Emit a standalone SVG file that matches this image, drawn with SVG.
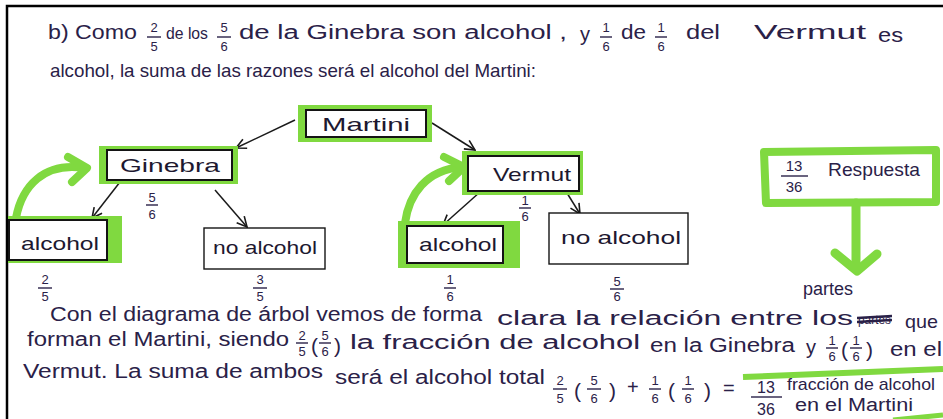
<svg xmlns="http://www.w3.org/2000/svg" width="943" height="419" viewBox="0 0 943 419">
<defs>
<style>
.t{font-family:"Liberation Sans",Arial,sans-serif;fill:#2a2148;font-size:20px}
.n{font-family:"Liberation Sans",Arial,sans-serif;fill:#1d1830;font-size:19px;text-anchor:middle}
.f{font-family:"Liberation Sans",Arial,sans-serif;fill:#2a2148;font-size:13px;text-anchor:middle}
.p{font-family:"Liberation Sans",Arial,sans-serif;fill:#2a2148;font-size:21px}
.bar{stroke:#2a2148;stroke-width:1.4}
.hl{fill:#80d940}
.box{fill:#fff;stroke:#141414;stroke-width:2}
.box2{fill:#fff;stroke:#141414;stroke-width:1.4}
.ed{fill:none;stroke:#1a1a1a;stroke-width:1.5}
.ga{fill:none;stroke:#80d940;stroke-width:8;stroke-linecap:round;stroke-linejoin:round}
</style>
<marker id="ah" viewBox="0 0 12 12" refX="11" refY="6" markerWidth="12" markerHeight="12" markerUnits="userSpaceOnUse" orient="auto">
<path d="M1,1 L11,6 L1,11" fill="none" stroke="#1a1a1a" stroke-width="1.6"/>
</marker>
</defs>
<rect width="943" height="419" fill="#fff"/>
<path d="M7,419 L7,6 L943,6" fill="none" stroke="#000" stroke-width="2.5"/>

<g id="intro">
<text class="t" x="48" y="39" textLength="89" lengthAdjust="spacingAndGlyphs">b) Como</text>
<text class="f" x="154" y="32">2</text><line class="bar" x1="147" y1="37" x2="161" y2="37"/><text class="f" x="154" y="51">5</text>
<text class="t" x="166" y="39" style="font-size:16px" textLength="42" lengthAdjust="spacingAndGlyphs">de los</text>
<text class="f" x="224" y="32">5</text><line class="bar" x1="217" y1="37" x2="231" y2="37"/><text class="f" x="224" y="51">6</text>
<text class="t" x="239" y="39" textLength="328" lengthAdjust="spacingAndGlyphs">de la Ginebra son alcohol ,</text>
<text class="t" x="580" y="41">y</text>
<text class="f" x="606" y="32">1</text><line class="bar" x1="600" y1="37" x2="612" y2="37"/><text class="f" x="606" y="51">6</text>
<text class="t" x="621" y="39" textLength="25" lengthAdjust="spacingAndGlyphs">de</text>
<text class="f" x="661" y="32">1</text><line class="bar" x1="655" y1="37" x2="667" y2="37"/><text class="f" x="661" y="51">6</text>
<text class="t" x="686" y="39" textLength="34" lengthAdjust="spacingAndGlyphs">del</text>
<text class="t" x="754" y="39" style="font-size:21px" textLength="112" lengthAdjust="spacingAndGlyphs">Vermut</text>
<text class="t" x="878" y="42" textLength="25" lengthAdjust="spacingAndGlyphs">es</text>
<text class="t" x="50" y="77" style="font-size:18.5px" textLength="486" lengthAdjust="spacingAndGlyphs">alcohol, la suma de las razones será el alcohol del Martini:</text>
</g>

<g id="connectors">
<path class="ed" d="M295,120 L236,148" marker-end="url(#ah)"/>
<path class="ed" d="M432,123 L475,150" marker-end="url(#ah)"/>
<path class="ed" d="M120,182 L92,218" marker-end="url(#ah)"/>
<path class="ed" d="M215,190 L247,227" marker-end="url(#ah)"/>
<path class="ed" d="M480,192 L443,225" marker-end="url(#ah)"/>
<path class="ed" d="M567,193 L580,214" marker-end="url(#ah)"/>
<path class="ga" d="M16,218 C22,186 44,162 84,168"/>
<path class="ga" d="M68,157 L87,168 L72,182"/>
<path class="ga" d="M405,223 C409,194 426,170 462,167"/>
<path class="ga" d="M444,157 L464,167 L449,181"/>
<path class="ga" d="M856,203 L856,268" style="stroke-width:9px"/>
<path class="ga" d="M835,253 L857,271 L877,254" style="stroke-width:9px"/>
</g>

<g id="martini">
<rect class="hl" x="298" y="105" width="134" height="37"/>
<rect class="box" x="306" y="110" width="120" height="27"/>
<text class="n" x="366" y="131" textLength="88" lengthAdjust="spacingAndGlyphs">Martini</text>
</g>

<g id="ginebra">
<rect class="hl" x="99" y="146" width="139" height="38"/>
<rect class="box" x="107" y="150" width="125" height="30"/>
<text class="n" x="170" y="172" textLength="100" lengthAdjust="spacingAndGlyphs">Ginebra</text>
<text class="f" x="152" y="202">5</text><line class="bar" x1="146" y1="205" x2="158" y2="205"/><text class="f" x="152" y="219">6</text>
</g>

<g id="alcohol-ginebra">
<rect class="hl" x="8" y="216" width="114" height="47"/>
<rect class="box" x="9" y="220" width="98" height="40"/>
<text class="n" x="60" y="250" textLength="78" lengthAdjust="spacingAndGlyphs">alcohol</text>
<text class="f" x="45" y="284">2</text><line class="bar" x1="38" y1="288" x2="52" y2="288"/><text class="f" x="45" y="301">5</text>
</g>

<g id="no-alcohol-ginebra">
<rect class="box2" x="204" y="228" width="121" height="41"/>
<text class="n" x="265" y="254" textLength="104" lengthAdjust="spacingAndGlyphs">no alcohol</text>
<text class="f" x="260" y="284">3</text><line class="bar" x1="253" y1="288" x2="267" y2="288"/><text class="f" x="260" y="301">5</text>
</g>

<g id="vermut">
<rect class="hl" x="462" y="151" width="121" height="44"/>
<rect class="box" x="468" y="156" width="111" height="35"/>
<text class="n" x="532" y="181" textLength="78" lengthAdjust="spacingAndGlyphs">Vermut</text>
<text class="f" x="525" y="205">1</text><line class="bar" x1="519" y1="208" x2="531" y2="208"/><text class="f" x="525" y="221">6</text>
</g>

<g id="alcohol-vermut">
<rect class="hl" x="398" y="221" width="122" height="47"/>
<rect class="box" x="407" y="226" width="96" height="37"/>
<text class="n" x="458" y="251" textLength="78" lengthAdjust="spacingAndGlyphs">alcohol</text>
<text class="f" x="450" y="284">1</text><line class="bar" x1="444" y1="288" x2="456" y2="288"/><text class="f" x="450" y="301">6</text>
</g>

<g id="no-alcohol-vermut">
<rect class="box2" x="549" y="213" width="139" height="51"/>
<text class="n" x="621" y="244" textLength="120" lengthAdjust="spacingAndGlyphs">no alcohol</text>
<text class="f" x="617" y="286">5</text><line class="bar" x1="610" y1="289" x2="624" y2="289"/><text class="f" x="617" y="301">6</text>
</g>

<g id="respuesta">
<path class="ga" d="M764,152 L936,150 L936,202 L766,203 Z"/>
<text class="f" x="794" y="171" style="font-size:15px">13</text><line class="bar" x1="781" y1="176" x2="808" y2="176"/><text class="f" x="794" y="192" style="font-size:15px">36</text>
<text class="t" x="828" y="176" style="font-size:19px" textLength="92" lengthAdjust="spacingAndGlyphs">Respuesta</text>
<text class="t" x="803" y="295" style="font-size:18px" textLength="50" lengthAdjust="spacingAndGlyphs">partes</text>
</g>

<g id="conclusion">
<text class="t" x="50" y="321" textLength="432" lengthAdjust="spacingAndGlyphs">Con el diagrama de árbol vemos de forma</text>
<text class="t" x="497" y="325" textLength="356" lengthAdjust="spacingAndGlyphs">clara la relación entre los</text>
<text class="t" x="858" y="324" style="font-size:12px" textLength="33" lengthAdjust="spacingAndGlyphs">partes</text>
<path d="M857,318 L892,316 M857,322 L892,320" stroke="#2a2148" stroke-width="2.5"/>
<text class="t" x="905" y="328" style="font-size:19px" textLength="33" lengthAdjust="spacingAndGlyphs">que</text>

<text class="t" x="27" y="346" textLength="262" lengthAdjust="spacingAndGlyphs">forman el Martini, siendo</text>
<text class="f" x="302" y="340">2</text><line class="bar" x1="296" y1="343" x2="308" y2="343"/><text class="f" x="302" y="356">5</text>
<text class="p" x="311" y="353">(</text>
<text class="f" x="325" y="340">5</text><line class="bar" x1="319" y1="343" x2="331" y2="343"/><text class="f" x="325" y="356">6</text>
<text class="p" x="334" y="353">)</text>
<text class="t" x="350" y="349" textLength="290" lengthAdjust="spacingAndGlyphs">la fracción de alcohol</text>
<text class="t" x="650" y="352" textLength="145" lengthAdjust="spacingAndGlyphs">en la Ginebra</text>
<text class="t" x="806" y="354">y</text>
<text class="f" x="832" y="345">1</text><line class="bar" x1="826" y1="348" x2="838" y2="348"/><text class="f" x="832" y="361">6</text>
<text class="p" x="841" y="357">(</text>
<text class="f" x="856" y="345">1</text><line class="bar" x1="850" y1="348" x2="862" y2="348"/><text class="f" x="856" y="361">6</text>
<text class="p" x="866" y="357">)</text>
<text class="t" x="890" y="356" textLength="52" lengthAdjust="spacingAndGlyphs">en el</text>

<text class="t" x="23" y="378" textLength="300" lengthAdjust="spacingAndGlyphs">Vermut. La suma de ambos</text>
<text class="t" x="335" y="384" textLength="210" lengthAdjust="spacingAndGlyphs">será el alcohol total</text>
<text class="f" x="560" y="385">2</text><line class="bar" x1="553" y1="389" x2="567" y2="389"/><text class="f" x="560" y="403">5</text>
<text class="p" x="574" y="398">(</text>
<text class="f" x="594" y="385">5</text><line class="bar" x1="587" y1="389" x2="601" y2="389"/><text class="f" x="594" y="403">6</text>
<text class="p" x="609" y="398">)</text>
<text class="t" x="627" y="394">+</text>
<text class="f" x="655" y="385">1</text><line class="bar" x1="649" y1="389" x2="661" y2="389"/><text class="f" x="655" y="403">6</text>
<text class="p" x="668" y="398">(</text>
<text class="f" x="688" y="385">1</text><line class="bar" x1="682" y1="389" x2="694" y2="389"/><text class="f" x="688" y="403">6</text>
<text class="p" x="704" y="398">)</text>
<text class="t" x="723" y="395">=</text>
<path d="M743,377 L943,369" stroke="#80d940" stroke-width="6"/>
<path d="M893,420 L943,415" stroke="#80d940" stroke-width="5"/>
<text class="f" x="766" y="393" style="font-size:16px">13</text><line class="bar" x1="751" y1="397" x2="782" y2="397"/><text class="f" x="766" y="415" style="font-size:16px">36</text>
<text class="t" x="787" y="390" style="font-size:17px" textLength="148" lengthAdjust="spacingAndGlyphs">fracción de alcohol</text>
<text class="t" x="795" y="411" style="font-size:18px" textLength="118" lengthAdjust="spacingAndGlyphs">en el Martini</text>
</g>
</svg>
